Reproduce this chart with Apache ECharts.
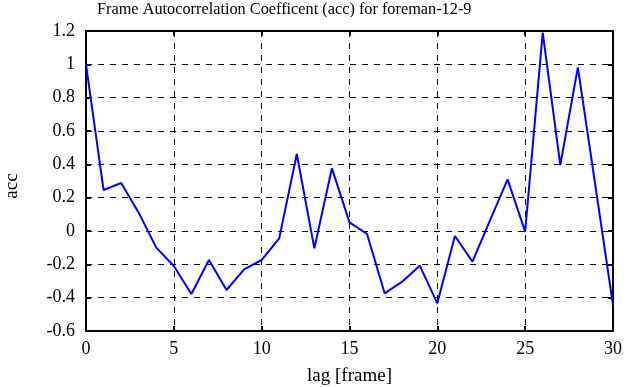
<!DOCTYPE html>
<html><head><meta charset="utf-8">
<script src="https://cdn.jsdelivr.net/npm/echarts@6/dist/echarts.min.js"></script>
<style>html,body{margin:0;padding:0;background:#fff}#c{width:635px;height:387px}</style>
</head><body><div id="c"></div>
<script>
const lags = [0,1,2,3,4,5,6,7,8,9,10,11,12,13,14,15,16,17,18,19,20,21,22,23,24,25,26,27,28,29,30];
const acc = [1.0,0.246,0.288,0.11,-0.10,-0.21,-0.378,-0.174,-0.354,-0.23,-0.174,-0.044,0.462,-0.104,0.376,0.052,-0.018,-0.374,-0.304,-0.208,-0.434,-0.03,-0.184,0.064,0.31,-0.004,1.19,0.396,0.982,0.27,-0.444];
const xTicks = [0,5,10,15,20,25,30];
const yTicks = [-0.6,-0.4,-0.2,0,0.2,0.4,0.6,0.8,1,1.2];
const titleText = 'Frame Autocorrelation Coefficent (acc) for foreman-12-9';

const FONT = '"Liberation Serif", "DejaVu Serif", serif';
const chart = echarts.init(document.getElementById('c'));
const axisBase = {
  axisLine:{show:true,onZero:false,lineStyle:{color:'#000',width:2}},
  axisTick:{show:true,inside:true,length:5,lineStyle:{color:'#000',width:2}},
};
chart.setOption({
  animation:false,
  backgroundColor:'#fff',
  title:{text:titleText,left:97,top:2,padding:0,textStyle:{fontFamily:FONT,fontSize:16.3,fontWeight:'normal',color:'#000'}},
  grid:{left:86,right:22,top:31,bottom:56,show:false,containLabel:false,outerBoundsMode:'none'},
  xAxis:[{
    type:'value',min:xTicks[0],max:xTicks[xTicks.length-1],interval:5,
    name:'lag [frame]',nameLocation:'middle',nameGap:36,
    nameTextStyle:{fontFamily:FONT,fontSize:19,color:'#000'},
    ...axisBase,
    axisLabel:{fontFamily:FONT,fontSize:18,color:'#000',margin:9},
    splitLine:{show:true,lineStyle:{color:'#000',type:[6,6],width:1}}
  },{
    type:'value',position:'top',min:xTicks[0],max:xTicks[xTicks.length-1],interval:5,
    ...axisBase,axisLabel:{show:false},splitLine:{show:false}
  }],
  yAxis:[{
    type:'value',min:yTicks[0],max:yTicks[yTicks.length-1],interval:0.2,
    name:'acc',nameLocation:'middle',nameGap:64,
    nameTextStyle:{fontFamily:FONT,fontSize:19,color:'#000',padding:[0,10,0,0]},
    ...axisBase,
    axisLabel:{fontFamily:FONT,fontSize:18,color:'#000',margin:11,formatter:v=>String(+v.toFixed(1))},
    splitLine:{show:true,lineStyle:{color:'#000',type:[6,6],width:1}}
  },{
    type:'value',position:'right',min:yTicks[0],max:yTicks[yTicks.length-1],interval:0.2,
    ...axisBase,axisLabel:{show:false},splitLine:{show:false}
  }],
  series:[{
    type:'line',data:lags.map((l,i)=>[l,acc[i]]),
    showSymbol:false,symbol:'none',
    lineStyle:{color:'#0000ff',width:2},
    z:3
  }]
});
</script></body></html>
